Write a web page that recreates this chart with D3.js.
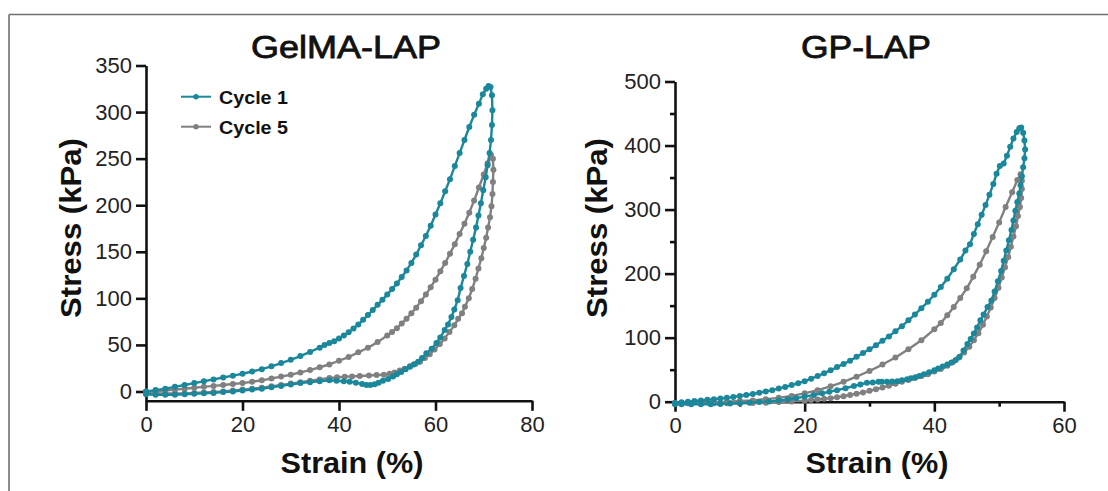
<!DOCTYPE html>
<html>
<head>
<meta charset="utf-8">
<script src="https://cdn.jsdelivr.net/npm/d3@7"></script>
<style>
  body { margin: 0; background: #fff; }
  svg { display: block; font-family: "Liberation Sans", Arial, sans-serif; }
  .axis path, .axis line { stroke: #111; stroke-width: 2.6px; }
  .axis text { font-size: 22px; fill: #222; font-family: "Liberation Sans", Arial, sans-serif; }
</style>
</head>
<body>
<div id="chart"></div>
<script>
// [strain %, stress kPa]
const gelC1Load = [[0,0],[2,1.5],[4,3],[6,5],[8,7],[10,9],[12,11],[14,13],[16,15],[18,17],[20,19],[22,21.5],[24,24],[26,27],[28,30.5],[30,34],[32,38],[34,42.5],[36,47],[37,50],[38,52],[39,54],[40,57],[41,60],[42,63.5],[43,67.5],[44,72],[45,77],[46,82],[47,87.5],[48,93],[49,98.5],[50,104],[51,110],[52,116],[53,123],[54,130],[55,138],[56,147],[57,157],[58,167],[59,178],[60,190],[61,202],[62,215],[63,228],[64,242],[65,256],[66,270],[67,284],[68,297],[69,309],[69.8,319],[70.5,325],[71,328],[71.4,327]];
const gelC1Unload = [[71.7,318],[71.8,302],[71.7,286],[71.5,270],[71.2,256],[70.8,243],[70.4,230],[69.9,216],[69.4,202],[68.9,189],[68.4,176],[67.8,163],[67.2,150],[66.6,137],[65.9,124],[65.2,111],[64.6,98],[63.9,88],[63.3,80],[62.6,72],[61.9,66],[61,58],[60.2,52],[59.2,46],[58.1,41],[57.2,36],[56.4,32],[55.5,29],[54.7,26.6],[53.8,24],[52.9,21],[52,18.5],[51.2,16],[50.2,13.5],[49.1,11.6],[48.2,9.5],[47.4,7.7],[46.5,7],[45.7,7],[44.8,8],[43.5,9.5],[42.2,10.5],[41,11],[39.5,11.6],[38,12],[36,11],[34,10],[32,9],[30,7.5],[28,6],[26,4.5],[24,3],[22,2],[20,1],[18,0],[16,-0.5],[14,-1.5],[12,-2],[10,-2.5],[8,-3],[6,-3.5],[4,-3.5],[2,-3.5],[0,-3]];
const gelC5Load = [[0,0],[2,0.5],[4,1],[6,2],[8,3],[10,4],[12,5],[14,6],[16,7],[18,8],[20,9],[22,10.5],[24,12],[26,14],[28,16],[30,18],[32,20.5],[34,23],[36,26],[38,29],[40,33],[42,37],[44,42],[46,47],[48,53],[50,60],[51,64],[52,68],[53,73],[54,78],[55,84],[56,90],[57,97],[58,104],[59,112],[60,120],[61,129],[62,138],[63,148],[64,158],[65,169],[66,180],[67,192],[68,205],[69,219],[70,233],[70.8,245],[71.5,254]];
const gelC5Unload = [[71.9,250],[72,238],[71.9,225],[71.8,212],[71.6,199],[71.3,187],[70.9,176],[70.5,165],[70,154],[69.5,143],[68.9,132],[68.3,121],[67.6,110],[66.9,100],[66.1,91],[65.5,84],[64.7,78],[63.9,71],[62.9,64],[61.9,57],[60.9,51],[59.8,45],[58.8,40],[57.8,36],[56.8,32],[55.8,29.5],[54.7,27],[53.6,24.5],[52.6,22.5],[51.5,20.5],[50.5,19],[49.3,18],[47.8,17.7],[46.2,17.2],[44.3,16.6],[42.7,16.2],[41.2,15.8],[39.6,15.2],[38,14.5],[36,13],[34,11.5],[32,10],[30,8.5],[28,7],[26,5.5],[24,4],[22,3],[20,2],[18,1],[16,0],[14,-0.5],[12,-1],[10,-1.5],[8,-2],[6,-2],[4,-2],[2,-2],[0,-1.5]];

const gpC1Load = [[0,-2],[1,-1],[2,0],[3,1],[4,2],[5,3],[6,4],[7,5],[8,6],[9,7.5],[10,9],[11,10.5],[12,12],[13,14],[14,16],[15,18],[16,20.5],[17,23],[18,26],[19,29],[20,32],[21,36],[22,40],[23,44.5],[24,49],[25,54],[26,59],[27,64],[28,70],[29,76],[30,82],[31,88],[32,95],[33,102],[34,110],[35,118],[36,127],[37,136],[38,146],[39,156],[40,167],[41,179],[42,192],[43,207],[44,222],[44.8,236],[45.5,246],[46.1,262],[46.7,277],[47.3,292],[47.9,307],[48.5,323],[49.1,340],[49.6,356],[50.1,368],[50.7,372],[51.2,384],[51.7,398],[52.2,411],[52.7,421],[53.1,427],[53.4,428]];
const gpC1Unload = [[53.7,420],[53.9,408],[54,394],[53.9,380],[53.7,366],[53.5,352],[53.3,338],[53.1,325],[52.8,312],[52.5,298],[52.2,283],[51.9,268],[51.5,252],[51.1,236],[50.7,220],[50.3,204],[49.8,188],[49.3,172],[48.8,158],[48.2,148],[47.6,136],[47.1,127],[46.6,116],[46.1,106.5],[45.6,98],[45.1,90],[44.5,80],[43.9,70],[43.3,65],[42.6,61],[42,58],[41.3,55],[40.6,52],[40,49],[39.2,46],[38.4,43],[37.7,40],[37.1,38],[36.4,36.5],[35.8,35],[35,33.5],[34.3,32],[33.5,31.5],[32.7,31],[31.9,31],[31.4,31],[30.5,30],[29.6,29.6],[28.6,27],[27.6,24.5],[26.3,21],[25,18],[23.8,15.5],[22.7,13],[21.4,10.5],[20,8],[18.7,5.5],[17.4,3.7],[16,2],[14.5,0.5],[13,-0.5],[11.5,-1.5],[10,-2.5],[8.5,-3],[7,-3.5],[5.5,-4],[4,-4],[2.5,-4],[1,-4],[0,-4]];
const gpC5Load = [[0,-2],[2,-1.5],[4,-1],[6,-0.5],[8,0],[10,1],[12,2],[14,4],[16,6],[18,9],[20,13],[22,18],[24,24],[26,31],[28,39],[30,48],[32,58],[34,69],[36,82],[38,96],[40,113],[41,123],[42,135],[43,148],[44,162],[45,177],[46,195],[47,214],[48,235],[49,257],[50,280],[51,304],[52,327],[52.8,346],[53.3,355]];
const gpC5Unload = [[53.5,345],[53.5,332],[53.4,318],[53.2,304],[52.9,290],[52.6,274],[52.2,258],[51.8,242],[51.4,226],[50.9,210],[50.4,194],[49.9,178],[49.3,162],[48.7,147],[48.1,133],[47.5,120],[46.8,107],[46.1,96],[45.4,86],[44.6,77],[43.8,69],[42.9,62],[42,56],[41,51],[40,47],[39,43],[38,40],[37,37],[36,34],[35,31],[34,28],[33,25],[32,22],[31,19.5],[30,17],[29,14.5],[28,12.5],[27,10.5],[26,8.5],[25,7],[24,5.5],[23,4.5],[22,3.5],[21,2.5],[20,1.5],[18,0.5],[16,-0.5],[14,-1.5],[12,-2],[10,-2.5],[8,-2.5],[6,-2.5],[4,-2.5],[2,-2.5],[0,-2]];

const cycleNames = ['Cycle 1', 'Cycle 5'];
const cycleColors = ['#1a879a', '#808080'];

const gelXTicks = [0, 20, 40, 60, 80];
const gelYTicks = [0, 50, 100, 150, 200, 250, 300, 350];
const gpXTicks = [0, 20, 40, 60];
const gpXMinor = [10, 30, 50];
const gpYTicks = [0, 100, 200, 300, 400, 500];
const gpYMinor = [50, 150, 250, 350, 450];

const W = 1108, H = 491;
const svg = d3.select('#chart').append('svg').attr('width', W).attr('height', H);

// frame lines of the original panel
svg.append('line').attr('x1', 9).attr('y1', 14.5).attr('x2', W).attr('y2', 14.5)
   .attr('stroke', '#6f6f6f').attr('stroke-width', 1.6);
svg.append('line').attr('x1', 9).attr('y1', 14.5).attr('x2', 9).attr('y2', H)
   .attr('stroke', '#6f6f6f').attr('stroke-width', 1.6);

function drawPanel(p) {
    let x = d3.scaleLinear().domain(p.xDomain).range(p.xRange);
    let y = d3.scaleLinear().domain(p.yDomain).range(p.yRange);
    let g = svg.append('g');

    g.append('g').attr('class', 'axis')
        .attr('transform', `translate(0,${p.yRange[0]})`)
        .call(d3.axisBottom(x).tickValues(p.xTicks).tickSize(10).tickSizeOuter(0).tickPadding(6));
    g.append('g').attr('class', 'axis')
        .attr('transform', `translate(${p.xRange[0]},0)`)
        .call(d3.axisLeft(y).tickValues(p.yTicks).tickSize(10).tickSizeOuter(0).tickPadding(4));

    if (p.xMinor) {
        g.append('g').attr('class', 'axis')
            .attr('transform', `translate(0,${p.yRange[0]})`)
            .call(d3.axisBottom(x).tickValues(p.xMinor).tickSize(5).tickSizeOuter(0).tickFormat(''))
            .select('.domain').remove();
    }
    if (p.yMinor) {
        g.append('g').attr('class', 'axis')
            .attr('transform', `translate(${p.xRange[0]},0)`)
            .call(d3.axisLeft(y).tickValues(p.yMinor).tickSize(5).tickSizeOuter(0).tickFormat(''))
            .select('.domain').remove();
    }

    let line = d3.line().x(d => x(d[0])).y(d => y(d[1]));

    // cycle 5 underneath, cycle 1 on top
    [1, 0].forEach(i => {
        let pts = p.series[i];
        g.append('path').datum(pts)
            .attr('d', line)
            .attr('fill', 'none')
            .attr('stroke', cycleColors[i])
            .attr('stroke-width', 2.4)
            .attr('stroke-linejoin', 'round');
        g.append('g').selectAll('circle')
            .data(pts)
            .enter()
            .append('circle')
            .attr('cx', d => x(d[0]))
            .attr('cy', d => y(d[1]))
            .attr('r', 3)
            .attr('fill', cycleColors[i]);
    });

    g.append('text')
        .attr('x', p.titleX).attr('y', 57.5)
        .attr('text-anchor', 'middle')
        .attr('font-size', 31).attr('fill', '#111')
        .attr('stroke', '#111').attr('stroke-width', 0.8)
        .attr('textLength', p.titleLen).attr('lengthAdjust', 'spacingAndGlyphs')
        .text(p.title);

    g.append('text')
        .attr('x', p.xLabelX).attr('y', 473)
        .attr('text-anchor', 'middle')
        .attr('font-size', 30).attr('font-weight', 'bold').attr('fill', '#111')
        .attr('textLength', 143).attr('lengthAdjust', 'spacingAndGlyphs')
        .text('Strain (%)');

    g.append('text')
        .attr('transform', `translate(${p.yLabelX},228) rotate(-90)`)
        .attr('text-anchor', 'middle')
        .attr('font-size', 30).attr('font-weight', 'bold').attr('fill', '#111')
        .attr('textLength', 180).attr('lengthAdjust', 'spacingAndGlyphs')
        .text('Stress (kPa)');

    return {x: x, y: y, g: g};
}

const gel = drawPanel({
    xDomain: [0, 80], xRange: [146, 532],
    yDomain: [-10, 350], yRange: [400.8, 65.5],
    xTicks: gelXTicks, yTicks: gelYTicks,
    series: [gelC1Load.concat(gelC1Unload), gelC5Load.concat(gelC5Unload)],
    title: 'GelMA-LAP', titleX: 346, titleLen: 190,
    xLabelX: 352, yLabelX: 81
});

drawPanel({
    xDomain: [0, 60], xRange: [675, 1064],
    yDomain: [0, 500], yRange: [401.7, 81.5],
    xTicks: gpXTicks, yTicks: gpYTicks, xMinor: gpXMinor, yMinor: gpYMinor,
    series: [gpC1Load.concat(gpC1Unload), gpC5Load.concat(gpC5Unload)],
    title: 'GP-LAP', titleX: 866, titleLen: 130,
    xLabelX: 877, yLabelX: 607
});

// legend (left panel only)
let legend = gel.g.append('g');
cycleNames.forEach((name, i) => {
    let ly = 96.7 + i * 30;
    legend.append('line').attr('x1', 181).attr('x2', 211).attr('y1', ly).attr('y2', ly)
        .attr('stroke', cycleColors[i]).attr('stroke-width', 2);
    legend.append('circle').attr('cx', 196).attr('cy', ly).attr('r', 2.7).attr('fill', cycleColors[i]);
    legend.append('text').attr('x', 219).attr('y', ly + 7)
        .attr('font-size', 19).attr('font-weight', 'bold').attr('fill', '#111')
        .attr('textLength', 69).attr('lengthAdjust', 'spacingAndGlyphs')
        .text(name);
});
</script>
</body>
</html>
